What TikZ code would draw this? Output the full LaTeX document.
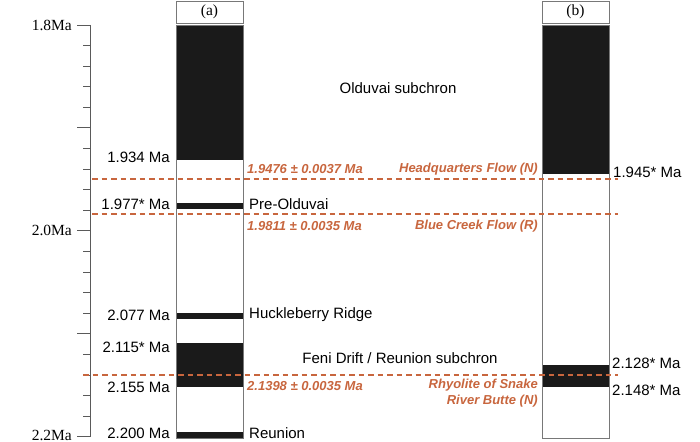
\documentclass[tikz,border=0pt]{standalone}
\usepackage{fontspec}
\setmainfont{Liberation Serif}
\setsansfont{Liberation Sans}
\definecolor{rust}{RGB}{200,102,62}
\definecolor{band}{RGB}{26,26,26}
\definecolor{frame}{RGB}{120,120,120}
\definecolor{axisgray}{RGB}{90,90,90}
\begin{document}
\begin{tikzpicture}[x=1pt,y=-1pt,
  lab/.style={font=\sffamily\fontsize{15}{17}\selectfont, inner sep=0pt},
  serl/.style={font=\rmfamily\fontsize{15.5}{17}\selectfont, inner sep=0pt},
  dat/.style={font=\sffamily\bfseries\itshape\fontsize{13}{15.5}\selectfont, text=rust, inner sep=0pt},
  colbox/.style={draw=frame, line width=0.9pt, fill=white},
  blk/.style={fill=band},
  dline/.style={draw=rust, line width=1.2pt, dash pattern=on 5.5pt off 4pt},
  axl/.style={draw=axisgray, line width=0.9pt}]
\useasboundingbox (0,0) rectangle (700,441);
% axis
\draw[axl] (90,25) -- (90,437);
\foreach \i in {0,...,20}{
  \pgfmathsetmacro{\yy}{25+\i*20.585}
  \pgfmathtruncatemacro{\m}{mod(\i,5)}
  \ifnum\m=0 \draw[axl] (77,\yy) -- (90,\yy); \else \draw[axl] (83,\yy) -- (90,\yy); \fi
}
\node[serl, anchor=east] (t18) at (72,25) {1.8Ma};
\node[serl, anchor=east] (t20) at (72,230.9) {2.0Ma};
\node[serl, anchor=east] (t22) at (72,435.5) {2.2Ma};
% column a
\draw[colbox] (176,1) rectangle (243,23);
\node[serl] (ha) at (209.5,12) {(a)};
\draw[colbox] (176,25) rectangle (243,438);
\fill[blk] (176,25) rectangle (243,160);
\fill[blk] (176,203) rectangle (243,209);
\fill[blk] (176,313) rectangle (243,319);
\fill[blk] (176,343) rectangle (243,387);
\fill[blk] (176,432) rectangle (243,438);
\draw[draw=frame, line width=0.9pt] (176,25) rectangle (243,438);
% column b
\draw[colbox] (542,1) rectangle (609,23);
\node[serl] (hb) at (575.5,12) {(b)};
\draw[colbox] (542,25) rectangle (609,438);
\fill[blk] (542,25) rectangle (609,174);
\fill[blk] (542,365) rectangle (609,387);
\draw[draw=frame, line width=0.9pt] (542,25) rectangle (609,438);
% dashed lines
\coordinate (hq1) at (92,179); \coordinate (hq2) at (618,179);
\coordinate (bc1) at (92,214); \coordinate (bc2) at (618,214);
\coordinate (rs1) at (83,375); \coordinate (rs2) at (618,375);
\draw[dline] (hq1) -- (hq2);
\draw[dline] (bc1) -- (bc2);
\draw[dline] (rs1) -- (rs2);
% left ages
\node[lab, anchor=east] (a1) at (170,157) {1.934 Ma};
\node[lab, anchor=east] (a2) at (170,204) {1.977* Ma};
\node[lab, anchor=east] (a3) at (170,315) {2.077 Ma};
\node[lab, anchor=east] (a4) at (170,347) {2.115* Ma};
\node[lab, anchor=east] (a5) at (170,387) {2.155 Ma};
\node[lab, anchor=east] (a6) at (170,433.5) {2.200 Ma};
% event names
\node[lab, anchor=west] (e1) at (249,204) {Pre-Olduvai};
\node[lab, anchor=west] (e2) at (249,315) {Huckleberry Ridge};
\node[lab, anchor=west] (e3) at (249,433.5) {Reunion};
\node[lab] (s1) at (398,88) {Olduvai subchron};
\node[lab] (s2) at (400,358) {Feni Drift / Reunion subchron};
% right ages
\node[lab, anchor=west] (b1) at (613,172) {1.945* Ma};
\node[lab, anchor=west] (b2) at (612,363) {2.128* Ma};
\node[lab, anchor=west] (b3) at (612,390) {2.148* Ma};
% dates
\node[dat, anchor=west] (d1) at (247,169) {1.9476 ± 0.0037 Ma};
\node[dat, anchor=east] (n1) at (538,169) {Headquarters Flow (N)};
\node[dat, anchor=west] (d2) at (247,226) {1.9811 ± 0.0035 Ma};
\node[dat, anchor=east] (n2) at (538,226) {Blue Creek Flow (R)};
\node[dat, anchor=west] (d3) at (247,386) {2.1398 ± 0.0035 Ma};
\node[dat, anchor=north east, align=right] (n3) at (538,379) {Rhyolite of Snake\\River Butte (N)};
\end{tikzpicture}
\end{document}
